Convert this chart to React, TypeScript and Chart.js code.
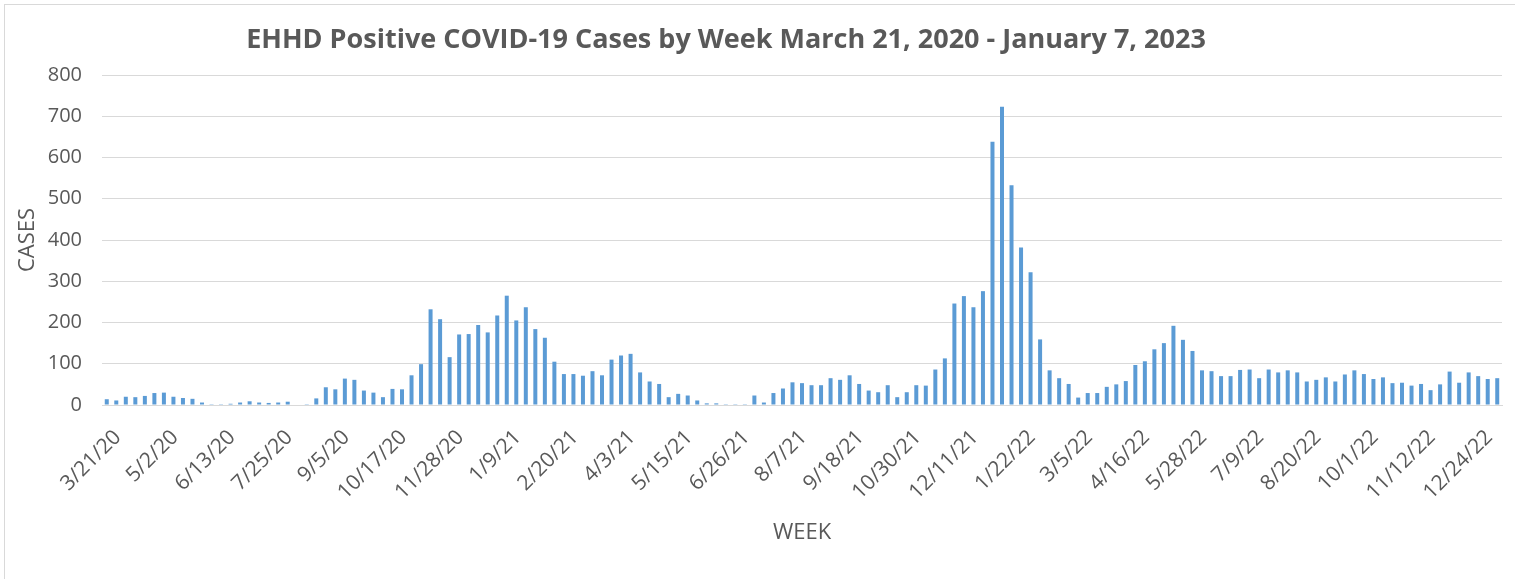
import React, { useEffect, useRef } from "react";
import { Chart, registerables } from "chart.js";

Chart.register(...registerables);

const TITLE = "EHHD Positive COVID-19 Cases by Week March 21, 2020 - January 7, 2023";
const X_TITLE = "WEEK";
const Y_TITLE = "CASES";

// weekly positive cases
const CASES_2020 = [
  14, 11, 20, 19, 22, 29, 30, 20, 17, 15, 6, 2, 2, 3, 6, 9, 6, 5, 6, 8,
  0, 2, 16, 43, 38, 64, 61, 35, 30, 19, 39, 38, 72, 99, 232, 208, 116, 171, 172, 194,
  176,
];
const CASES_2021 = [
  217, 265, 205, 237, 184, 163, 105, 75, 75, 71, 82, 72, 110, 120, 124, 79, 57, 51, 19, 27,
  23, 11, 4, 4, 2, 2, 2, 23, 6, 29, 40, 55, 53, 48, 48, 65, 61, 72, 51, 35,
  31, 48, 19, 31, 48, 47, 86, 113, 246, 264, 237, 276,
];
const CASES_2022 = [
  638, 723, 533, 382, 322, 159, 84, 65, 51, 18, 29, 29, 44, 50, 58, 97, 106, 135, 150, 192,
  158, 131, 84, 82, 70, 70, 85, 86, 65, 86, 79, 84, 79, 57, 61, 67, 57, 74, 84, 75,
  63, 67, 53, 54, 47, 51, 36, 50, 81, 54, 79, 70, 63,
];
const CASES_2023 = [65];

const VALUES = [...CASES_2020, ...CASES_2021, ...CASES_2022, ...CASES_2023];

// week-ending dates, one per bar, starting 3/21/20
const FIRST_WEEK = Date.UTC(2020, 2, 21);
const WEEKS: string[] = VALUES.map((_, i) => {
  const d = new Date(FIRST_WEEK + i * 7 * 86400000);
  return `${d.getUTCMonth() + 1}/${d.getUTCDate()}/${String(d.getUTCFullYear()).slice(2)}`;
});
const LABEL_EVERY = 6;

const Y_MAX = 800;
const Y_STEP = 100;

const TEXT = "#595959";
const GRID = "#d9d9d9";
const BAR = "#5b9bd5";
const FONT = '"Open Sans", "DejaVu Sans", sans-serif';

const titlePlugin = {
  id: "fixedTitle",
  afterDraw(chart: any) {
    const ctx = chart.ctx;
    ctx.save();
    ctx.font = `bold 27px ${FONT}`;
    ctx.fillStyle = TEXT;
    ctx.textAlign = "center";
    ctx.textBaseline = "middle";
    ctx.fillText(TITLE, 726, 40);
    ctx.restore();
  },
};

export default function App() {
  const ref = useRef<HTMLCanvasElement>(null);

  useEffect(() => {
    document.body.style.margin = "0";
    document.body.style.overflow = "hidden";
    const chart = new Chart(ref.current!, {
      type: "bar",
      data: {
        labels: WEEKS,
        datasets: [
          {
            label: "Cases",
            data: VALUES,
            backgroundColor: BAR,
            barPercentage: 0.42,
            categoryPercentage: 1,
          },
        ],
      },
      options: {
        animation: false,
        responsive: true,
        maintainAspectRatio: false,
        layout: { padding: { top: 75, right: 13, bottom: 0, left: 0 } },
        plugins: {
          legend: { display: false },
          tooltip: { enabled: false },
          title: { display: false },
        },
        scales: {
          x: {
            grid: { display: false },
            border: { display: true, color: GRID, width: 1 },
            ticks: {
              autoSkip: false,
              maxRotation: 45,
              minRotation: 45,
              color: TEXT,
              font: { family: FONT, size: 21 },
              padding: 12,
              labelOffset: 11,
              callback: (_v: any, i: number) => (i % LABEL_EVERY === 0 ? WEEKS[i] : null),
            },
            title: {
              display: true,
              text: X_TITLE,
              color: TEXT,
              font: { family: FONT, size: 22 },
              padding: { top: 0, bottom: 33 },
            },
            afterFit: (s: any) => {
              s.height = 174;
            },
          },
          y: {
            min: 0,
            max: Y_MAX,
            grid: { color: GRID, lineWidth: 1, drawTicks: false },
            border: { display: false },
            ticks: {
              stepSize: Y_STEP,
              color: TEXT,
              font: { family: FONT, size: 20 },
              padding: 20,
            },
            title: {
              display: true,
              text: Y_TITLE,
              color: TEXT,
              font: { family: FONT, size: 22 },
              padding: { top: 15, bottom: 0 },
            },
            afterFit: (s: any) => {
              s.width = 102;
            },
          },
        },
      },
      plugins: [titlePlugin],
    });
    return () => chart.destroy();
  }, []);

  return (
    <div style={{ position: "relative", width: 1515, height: 579 }}>
      <div
        style={{
          position: "absolute",
          left: 4,
          top: 4,
          width: 1511,
          height: 575,
          borderLeft: `1px solid ${GRID}`,
          borderTop: `1px solid ${GRID}`,
          boxSizing: "border-box",
        }}
      />
      <canvas ref={ref} style={{ position: "relative" }} />
    </div>
  );
}
